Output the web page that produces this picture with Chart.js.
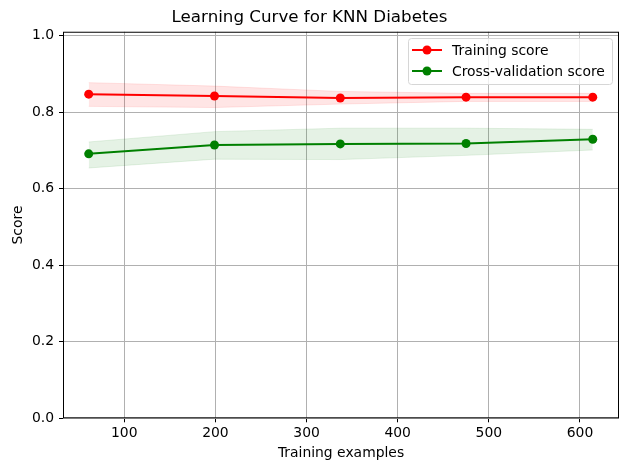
<!DOCTYPE html>
<html>
<head>
<meta charset="utf-8">
<script src="https://cdn.jsdelivr.net/npm/chart.js@4/dist/chart.umd.min.js"></script>
<style>
  html, body { margin: 0; padding: 0; background: #fff; }
  #wrap { width: 631px; height: 471px; }
</style>
</head>
<body>
<div id="wrap"><canvas id="chart"></canvas></div>
<script>
// training set sizes
const trainSizes = [61, 199, 337, 475, 614];

// mean scores
const trainMean = [0.847, 0.842, 0.837, 0.839, 0.839];
const cvMean    = [0.691, 0.714, 0.717, 0.718, 0.729];

// +/- one std band edges
const trainUpper = [0.877, 0.868, 0.854, 0.849, 0.849];
const trainLower = [0.815, 0.812, 0.821, 0.828, 0.828];
const cvUpper    = [0.722, 0.749, 0.758, 0.758, 0.755];
const cvLower    = [0.654, 0.677, 0.676, 0.687, 0.701];

const yTicks = [0, 0.2, 0.4, 0.6, 0.8, 1.0];
const xTicks = [100, 200, 300, 400, 500, 600];

const FONT = "'DejaVu Sans', sans-serif";
const FS = 13.9;
const pts = ys => trainSizes.map((x, i) => ({x, y: ys[i]}));

function band(ys, color, fill) {
  return {
    data: pts(ys), borderColor: color, borderWidth: 1, backgroundColor: color,
    pointRadius: 0, fill: fill, tension: 0, inLegend: false
  };
}
function line(label, ys, color) {
  return {
    label, data: pts(ys), borderColor: color, backgroundColor: color,
    borderWidth: 2, pointRadius: 4.5, pointHoverRadius: 4.5, pointBorderWidth: 0,
    pointBackgroundColor: color, fill: false, tension: 0, inLegend: true
  };
}

// frame + legend box in the upper right
const frameLegend = {
  id: 'frameLegend',
  afterDraw(chart) {
    const {ctx, chartArea: a} = chart;
    ctx.save();
    ctx.strokeStyle = '#000';
    ctx.lineWidth = 1;
    ctx.strokeRect(a.left + 0.5, a.top + 0.5, a.right - a.left - 1, a.bottom - a.top - 1);

    const items = chart.data.datasets.filter(d => d.inLegend);
    const bx = 408.5, by = 38.5, bw = 204, bh = 46;
    ctx.fillStyle = 'rgba(255,255,255,0.8)';
    ctx.strokeStyle = '#d6d6d6';
    ctx.beginPath();
    ctx.roundRect(bx, by, bw, bh, 3);
    ctx.fill();
    ctx.stroke();

    ctx.font = FS + 'px ' + FONT;
    ctx.textBaseline = 'middle';
    items.forEach((d, i) => {
      const cy = 50 + i * 21;
      ctx.strokeStyle = d.borderColor;
      ctx.lineWidth = 2;
      ctx.beginPath();
      ctx.moveTo(412, cy);
      ctx.lineTo(442, cy);
      ctx.stroke();
      ctx.fillStyle = d.borderColor;
      ctx.beginPath();
      ctx.arc(427, cy, 4.5, 0, Math.PI * 2);
      ctx.fill();
      ctx.fillStyle = '#000';
      ctx.fillText(d.label, 452, cy + 1);
    });
    ctx.restore();
  }
};

new Chart(document.getElementById('chart'), {
  type: 'line',
  data: {
    datasets: [
      band(trainLower, 'rgba(255,0,0,0.1)', false),
      band(trainUpper, 'rgba(255,0,0,0.1)', '-1'),
      band(cvLower, 'rgba(0,128,0,0.1)', false),
      band(cvUpper, 'rgba(0,128,0,0.1)', '-1'),
      line('Training score', trainMean, '#ff0000'),
      line('Cross-validation score', cvMean, '#008000')
    ]
  },
  options: {
    responsive: true,
    maintainAspectRatio: false,
    animation: false,
    layout: { padding: { left: 0, right: 12, top: 3.5, bottom: 0 } },
    plugins: {
      legend: { display: false },
      tooltip: { enabled: false },
      title: {
        display: true,
        text: 'Learning Curve for KNN Diabetes',
        color: '#000',
        font: { family: FONT, size: 16.7, weight: 'normal', lineHeight: 1.2 },
        padding: { top: 4, bottom: 4.2 }
      }
    },
    scales: {
      x: {
        type: 'linear',
        min: 32.8, max: 642.8,
        afterBuildTicks: s => { s.ticks = xTicks.map(v => ({value: v})); },
        afterFit: s => { s.height = 52.7; },
        ticks: {
          color: '#000', font: { family: FONT, size: FS }, padding: 3,
          maxRotation: 0, includeBounds: false
        },
        grid: { color: '#b0b0b0', lineWidth: 1, tickColor: '#000', tickLength: 4 },
        border: { display: false },
        title: {
          display: true, text: 'Training examples', color: '#000',
          font: { family: FONT, size: FS, lineHeight: 1.2 },
          padding: { top: 0, bottom: 9.6 }
        }
      },
      y: {
        min: 0, max: 1.01,
        afterBuildTicks: s => { s.ticks = yTicks.map(v => ({value: v})); },
        afterFit: s => { s.width = 63; },
        ticks: {
          color: '#000', font: { family: FONT, size: FS }, padding: 5,
          includeBounds: false, callback: v => v.toFixed(1)
        },
        grid: { color: '#b0b0b0', lineWidth: 1, tickColor: '#000', tickLength: 4 },
        border: { display: false },
        title: {
          display: true, text: 'Score', color: '#000',
          font: { family: FONT, size: FS, lineHeight: 1.2 },
          padding: { top: 9.6, bottom: 0 }
        }
      }
    }
  },
  plugins: [frameLegend]
});
</script>
</body>
</html>
